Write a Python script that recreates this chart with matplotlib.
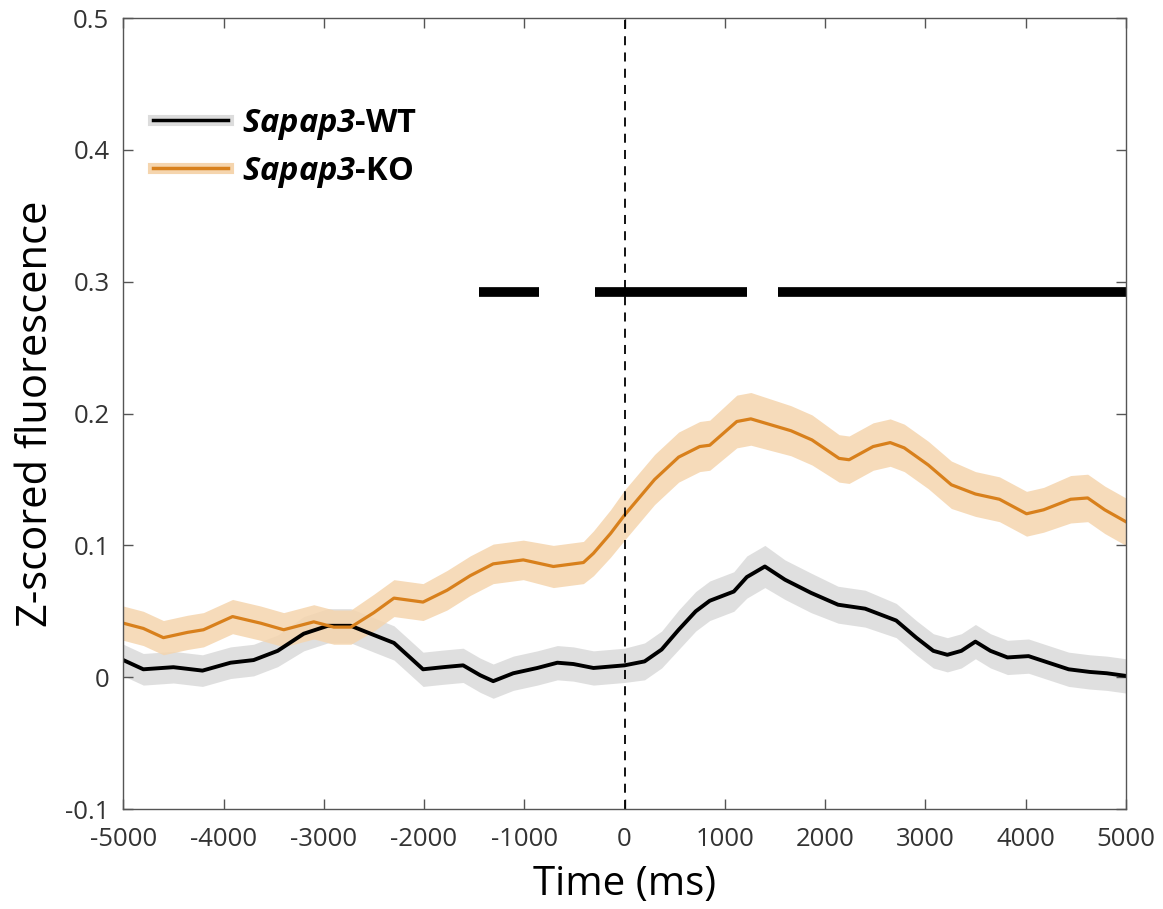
import numpy as np
import matplotlib
matplotlib.use('Agg')
import matplotlib.pyplot as plt

plt.rcParams['mathtext.fontset'] = 'custom'
plt.rcParams['mathtext.bf'] = 'Open Sans:italic:bold'
plt.rcParams['axes.unicode_minus'] = False

# Sapap3-WT (black)
t_wt = [-5000, -4800, -4500, -4210, -3930, -3700, -3460, -3200, -2960, -2730, -2500,
        -2300, -2140, -2010, -1810, -1610, -1440, -1310, -1110, -870, -670, -510, -310,
        0, 200, 370, 540, 710, 850, 1090, 1220, 1400, 1600, 1860, 2130, 2400, 2710,
        2910, 3080, 3220, 3360, 3500, 3650, 3820, 4030, 4230, 4430, 4640, 4810, 5000]
wt = [0.013, 0.006, 0.0076, 0.005, 0.011, 0.013, 0.020, 0.033, 0.039, 0.039, 0.032,
      0.026, 0.015, 0.006, 0.0076, 0.009, 0.0015, -0.003, 0.003, 0.007, 0.011, 0.010, 0.007,
      0.009, 0.012, 0.021, 0.036, 0.050, 0.058, 0.065, 0.076, 0.084, 0.074, 0.064, 0.055, 0.052, 0.043,
      0.030, 0.020, 0.017, 0.020, 0.027, 0.020, 0.015, 0.016, 0.011, 0.006, 0.004, 0.003, 0.001]
wt_sem = [0.012, 0.012, 0.012, 0.012, 0.012, 0.012, 0.012, 0.013, 0.013, 0.013, 0.013,
          0.013, 0.013, 0.013, 0.013, 0.013, 0.013, 0.013, 0.013, 0.013, 0.013, 0.013, 0.013,
          0.013, 0.014, 0.014, 0.015, 0.015, 0.015, 0.015, 0.016, 0.016, 0.015, 0.015, 0.014, 0.014, 0.013,
          0.013, 0.013, 0.013, 0.013, 0.013, 0.013, 0.013, 0.013, 0.013, 0.013, 0.013, 0.013, 0.013]

# Sapap3-KO (orange)
t_ko = [-5000, -4800, -4600, -4360, -4200, -3910, -3630, -3400, -3100, -2900, -2730,
        -2500, -2300, -2010, -1770, -1540, -1310, -1010, -710, -410, -310, -140,
        0, 300, 540, 750, 850, 1120, 1260, 1660, 1870, 2140, 2240, 2480, 2650, 2790,
        3030, 3260, 3500, 3740, 4010, 4180, 4450, 4620, 4790, 5000]
ko = [0.041, 0.037, 0.030, 0.034, 0.036, 0.046, 0.041, 0.036, 0.042, 0.038, 0.038,
      0.049, 0.060, 0.057, 0.066, 0.077, 0.086, 0.089, 0.084, 0.087, 0.094, 0.109,
      0.123, 0.150, 0.167, 0.175, 0.176, 0.194, 0.196, 0.187, 0.180, 0.166, 0.165, 0.175, 0.178, 0.174,
      0.161, 0.146, 0.139, 0.135, 0.124, 0.127, 0.135, 0.136, 0.127, 0.118]
ko_sem = [0.013, 0.013, 0.013, 0.013, 0.013, 0.013, 0.013, 0.013, 0.013, 0.013, 0.013,
          0.014, 0.014, 0.014, 0.015, 0.015, 0.015, 0.015, 0.016, 0.016, 0.017, 0.018,
          0.019, 0.019, 0.019, 0.019, 0.019, 0.020, 0.020, 0.019, 0.019, 0.018, 0.018, 0.018, 0.018, 0.018,
          0.018, 0.018, 0.017, 0.017, 0.017, 0.017, 0.018, 0.018, 0.018, 0.018]

# significance bars (ms)
sig_start = [-1450, -290, 1530]
sig_end = [-850, 1220, 5000]
sig_y = 0.292

orange = '#D8801C'
orange_band = '#F5D5AE'
gray_band = '#DCDCDC'

fig = plt.figure(figsize=(11.63, 9.09), dpi=100)
ax = fig.add_axes([0.106, 0.110, 0.862, 0.870])

wt = np.array(wt); wt_sem = np.array(wt_sem)
ko = np.array(ko); ko_sem = np.array(ko_sem)

ax.fill_between(t_wt, wt - wt_sem, wt + wt_sem, color=gray_band, lw=0, alpha=0.9)
ax.fill_between(t_ko, ko - ko_sem, ko + ko_sem, color=orange_band, lw=0, alpha=0.85)
ax.plot(t_wt, wt, color='black', lw=2.8)
ax.plot(t_ko, ko, color=orange, lw=2.3)

ax.axvline(0, color='black', ls=(0, (5, 4)), lw=1.3)
ax.hlines([sig_y] * len(sig_start), sig_start, sig_end, color='black', lw=7)

ax.set_xlim(-5000, 5000)
ax.set_ylim(-0.1, 0.5)
ax.set_xticks(np.arange(-5000, 5001, 1000))
ax.set_yticks(np.arange(-0.1, 0.51, 0.1))
ax.set_yticklabels(['-0.1', '0', '0.1', '0.2', '0.3', '0.4', '0.5'])
ax.tick_params(direction='in', top=True, right=True, length=7.5, width=1, labelsize=18.5,
               labelcolor='#333333', color='#555555')
ax.tick_params(axis='x', pad=13)
ax.tick_params(axis='y', pad=10)
for lab in ax.get_xticklabels() + ax.get_yticklabels():
    lab.set_fontfamily('Open Sans')
for s in ax.spines.values():
    s.set_color('#555555')
    s.set_linewidth(1)

ax.set_xlabel('Time (ms)', fontsize=29, family='Open Sans', labelpad=9)
ax.set_ylabel('Z-scored fluorescence', fontsize=30, family='Open Sans', labelpad=6)

h1 = plt.Line2D([], [], color=gray_band, lw=8)
h2 = plt.Line2D([], [], color=orange_band, lw=8)
h1b = plt.Line2D([], [], color='black', lw=2.5)
h2b = plt.Line2D([], [], color=orange, lw=2.5)
ax.legend([(h1, h1b), (h2, h2b)], [r'$\mathbf{Sapap3}$-WT', r'$\mathbf{Sapap3}$-KO'],
          loc='upper left', bbox_to_anchor=(0.0, 0.925), frameon=False,
          prop={'family': 'Open Sans', 'weight': 'bold', 'size': 23.5},
          handlelength=2.3, handletextpad=0.45, labelspacing=0.4)

fig.savefig('out.png', dpi=100)
